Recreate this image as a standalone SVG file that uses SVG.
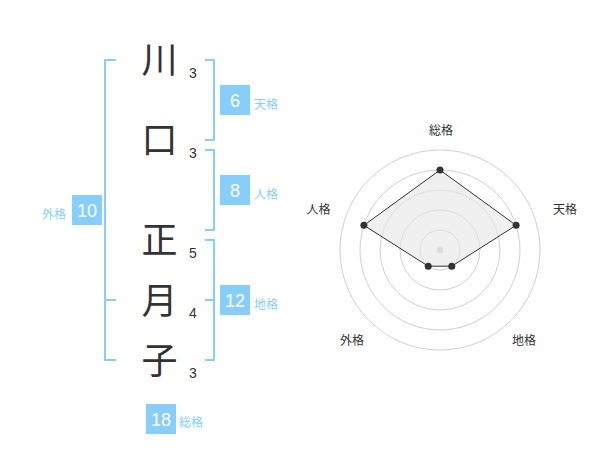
<svg xmlns="http://www.w3.org/2000/svg" width="600" height="470" viewBox="0 0 600 470">
<style>
.ch{font-family:"Liberation Sans","Noto Sans CJK JP",sans-serif;font-size:36px;fill:#333;text-anchor:middle}
.st{font-family:"Liberation Sans",sans-serif;font-size:14px;fill:#333;text-anchor:middle}
.box{fill:#87cefa}
.bn{font-family:"Liberation Sans",sans-serif;font-size:18px;fill:#fff;text-anchor:middle}
.bl{font-family:"Noto Sans CJK JP",sans-serif;font-size:12px;fill:#87cefa}
.br{fill:none;stroke:#87cefa;stroke-width:2}
.ring{fill:none;stroke:#d0d0d0;stroke-width:1}
.rl{font-family:"Noto Sans CJK JP",sans-serif;font-size:12px;fill:#333;text-anchor:middle}
.pt{fill:#333}
</style>
<rect width="600" height="470" fill="#fff"/>
<g id="connectors">
<path class="br" d="M205,60H214V140H205"/>
<path class="br" d="M205,150H214V230H205"/>
<path class="br" d="M205,240H214V360H205M214,300H205"/>
<path class="br" d="M116,60H105V360H116M105,300H116"/>
</g>
<g id="char-kawa"><text class="ch" x="159.5" y="73">川</text><text class="st" x="193" y="78">3</text></g>
<g id="char-kuchi"><text class="ch" x="159.5" y="153">口</text><text class="st" x="193" y="158">3</text></g>
<g id="char-sei"><text class="ch" x="159.5" y="253">正</text><text class="st" x="193" y="258">5</text></g>
<g id="char-tsuki"><text class="ch" x="159.5" y="314">月</text><text class="st" x="193" y="318">4</text></g>
<g id="char-ko"><text class="ch" x="159.5" y="374">子</text><text class="st" x="193" y="378">3</text></g>
<g id="tenkaku"><rect class="box" x="220" y="85" width="30" height="30"/><text class="bn" x="235" y="106.5">6</text><text class="bl" x="254" y="108.5">天格</text></g>
<g id="jinkaku"><rect class="box" x="220" y="175" width="30" height="30"/><text class="bn" x="235" y="196.5">8</text><text class="bl" x="254" y="198.5">人格</text></g>
<g id="chikaku"><rect class="box" x="220" y="285" width="30" height="30"/><text class="bn" x="235" y="306.5">12</text><text class="bl" x="254" y="308.5">地格</text></g>
<g id="gaikaku"><rect class="box" x="72" y="195" width="30" height="30"/><text class="bn" x="87" y="216.5">10</text><text class="bl" x="66" y="218.5" text-anchor="end">外格</text></g>
<g id="soukaku"><rect class="box" x="146" y="404" width="30" height="30"/><text class="bn" x="161" y="425.5">18</text><text class="bl" x="179" y="427">総格</text></g>
<g id="radar">
<circle class="ring" cx="440" cy="250" r="20"/>
<circle class="ring" cx="440" cy="250" r="40"/>
<circle class="ring" cx="440" cy="250" r="60"/>
<circle class="ring" cx="440" cy="250" r="80"/>
<circle class="ring" cx="440" cy="250" r="100"/>
<circle cx="440" cy="250" r="3.5" fill="#ccc"/>
<polygon points="440,170 516.1,225.3 451.8,266.2 428.2,266.2 363.9,225.3" fill="#e6e6e6" fill-opacity="0.6" stroke="#333" stroke-width="1"/>
<circle class="pt" cx="440" cy="170" r="3.5"/>
<circle class="pt" cx="516.1" cy="225.3" r="3.5"/>
<circle class="pt" cx="451.8" cy="266.2" r="3.5"/>
<circle class="pt" cx="428.2" cy="266.2" r="3.5"/>
<circle class="pt" cx="363.9" cy="225.3" r="3.5"/>
<text class="rl" x="441" y="135">総格</text>
<text class="rl" x="565" y="213.5">天格</text>
<text class="rl" x="524" y="345">地格</text>
<text class="rl" x="352" y="345">外格</text>
<text class="rl" x="318.5" y="213.5">人格</text>
</g>
</svg>
